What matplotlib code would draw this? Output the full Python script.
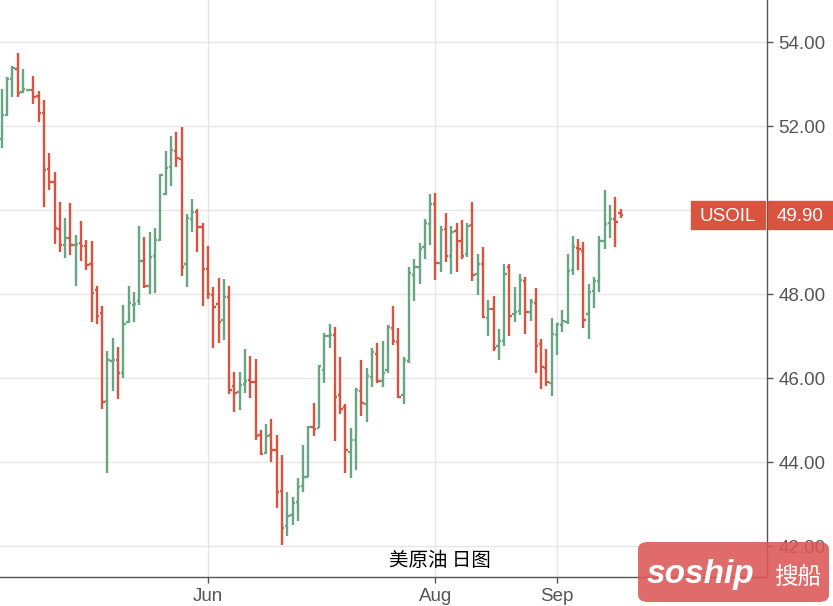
import numpy as np
import matplotlib.pyplot as plt
from matplotlib.patches import Rectangle, FancyBboxPatch
import matplotlib.transforms as mtransforms

plt.rcParams['font.family'] = ['Liberation Sans', 'Noto Sans CJK SC', 'DejaVu Sans']

# daily OHLC, one row per trading day (Apr -> mid Sep)
opens = [51.69, 52.27, 53.12, 53.36, 52.82, 52.86, 52.87, 52.72, 52.31, 50.99,
         50.67, 49.57, 49.17, 49.34, 49.17, 49.23, 49.15, 48.73, 48.10, 47.55,
         45.46, 46.42, 46.44, 46.13, 47.35, 47.76, 47.85, 48.80, 48.21, 48.92,
         49.30, 50.40, 51.04, 51.42, 51.23, 48.73, 49.80, 49.97, 49.61, 48.60,
         47.99, 47.78, 47.40, 47.94, 45.82, 45.68, 45.87, 45.97, 45.92, 44.65,
         44.22, 44.65, 44.30, 43.32, 42.49, 42.75, 43.06, 43.44, 43.65, 44.84,
         44.83, 46.21, 47.01, 47.04, 45.61, 45.32, 44.25, 44.54, 45.71, 45.40,
         46.04, 46.59, 45.94, 46.21, 47.21, 46.87, 45.61, 46.42, 48.47, 48.66,
         49.13, 49.68, 50.16, 48.75, 49.56, 48.92, 49.52, 49.28, 48.97, 49.66,
         48.49, 48.73, 47.44, 47.66, 46.78, 46.90, 48.66, 47.54, 47.61, 48.32,
         47.59, 47.80, 46.82, 46.25, 45.90, 47.04, 47.28, 47.35, 48.59, 49.11,
         49.04, 47.54, 48.09, 48.32, 49.28, 49.71, 49.80, 49.93]
highs = [52.90, 53.17, 53.44, 53.74, 53.36, 52.88, 53.20, 52.84, 52.63, 51.36,
         50.91, 50.20, 49.82, 50.17, 49.41, 49.75, 49.29, 49.27, 48.20, 47.72,
         46.65, 46.96, 46.75, 47.75, 48.20, 48.05, 49.63, 49.36, 49.48, 49.58,
         50.86, 51.41, 51.77, 51.86, 51.98, 49.91, 50.27, 50.03, 49.70, 49.15,
         48.17, 48.39, 48.36, 48.20, 46.15, 46.15, 46.70, 46.53, 46.46, 44.77,
         44.91, 45.03, 44.65, 44.17, 43.29, 43.17, 43.63, 44.41, 44.86, 45.41,
         46.32, 47.08, 47.29, 47.22, 46.51, 45.39, 44.82, 45.77, 46.44, 46.25,
         46.72, 46.84, 46.89, 47.27, 47.72, 47.20, 46.51, 48.65, 48.84, 49.22,
         49.79, 50.39, 50.41, 49.63, 49.94, 49.63, 49.70, 49.77, 49.70, 50.20,
         48.96, 49.13, 47.86, 47.96, 47.17, 48.72, 48.72, 48.17, 48.48, 48.41,
         47.89, 48.16, 46.94, 46.70, 47.44, 47.32, 47.63, 48.96, 49.39, 49.32,
         49.25, 48.25, 48.41, 49.39, 50.48, 50.13, 50.32, 50.03]
lows = [51.49, 52.25, 52.71, 52.71, 52.80, 52.84, 52.53, 52.11, 50.09, 50.48,
        49.20, 49.02, 48.86, 48.94, 48.20, 48.79, 48.58, 47.34, 47.29, 45.27,
        43.75, 45.71, 45.51, 46.01, 47.32, 47.35, 47.75, 48.16, 48.02, 48.04,
        49.28, 50.37, 50.59, 51.04, 48.44, 48.18, 49.49, 49.02, 47.73, 47.90,
        46.73, 46.85, 46.92, 45.63, 45.21, 45.25, 45.66, 45.54, 44.54, 44.18,
        44.21, 44.02, 42.91, 42.04, 42.25, 42.52, 42.61, 43.30, 43.65, 44.63,
        44.82, 45.90, 46.73, 44.52, 45.16, 43.75, 43.63, 43.82, 45.11, 44.97,
        45.80, 45.90, 45.80, 46.13, 46.80, 45.54, 45.40, 46.37, 47.85, 48.25,
        48.85, 49.18, 48.35, 48.54, 48.78, 48.49, 48.54, 48.85, 48.90, 48.32,
        47.99, 47.44, 47.01, 46.66, 46.44, 46.78, 47.01, 47.35, 47.52, 47.06,
        47.37, 46.13, 45.75, 45.82, 45.59, 46.56, 47.11, 47.30, 48.47, 48.59,
        47.21, 46.94, 47.68, 48.06, 49.09, 49.35, 49.13, 49.83]
closes = [52.27, 53.12, 53.40, 52.79, 52.89, 52.87, 52.71, 52.32, 50.96, 50.67,
          49.59, 49.17, 49.34, 49.17, 49.21, 49.15, 48.70, 48.03, 47.48, 45.44,
          46.44, 46.45, 46.13, 47.30, 47.80, 47.78, 48.80, 48.21, 48.90, 49.30,
          50.85, 51.02, 51.44, 51.25, 48.66, 49.82, 49.97, 49.61, 48.60, 48.02,
          47.71, 47.35, 47.94, 45.73, 45.66, 45.85, 45.94, 45.92, 44.63, 44.21,
          44.63, 44.30, 43.30, 42.44, 42.73, 43.04, 43.42, 43.66, 44.84, 44.80,
          46.29, 47.01, 47.04, 45.56, 45.28, 44.30, 44.54, 45.73, 45.42, 46.06,
          46.63, 45.94, 46.13, 47.23, 46.90, 45.56, 46.44, 48.51, 48.66, 49.09,
          49.71, 50.16, 48.75, 49.54, 48.92, 49.49, 49.28, 48.92, 49.63, 48.47,
          48.73, 47.47, 47.66, 46.73, 46.90, 48.49, 47.49, 47.59, 48.35, 47.59,
          47.82, 46.78, 46.28, 45.92, 47.06, 47.30, 47.37, 48.56, 49.13, 49.09,
          47.40, 48.06, 48.32, 49.28, 49.68, 49.80, 49.73, 49.90]

month_pos = [39, 82, 105]
month_labels = ['Jun', 'Aug', 'Sep']
price_ticks = [42, 44, 46, 48, 50, 52, 54]
symbol = 'USOIL'
last_price = closes[-1]
chart_title = '美原油 日图'

up_col = '#68a683'
down_col = '#d9533f'
axis_col = '#555555'

fig = plt.figure(figsize=(8.33, 6.06), dpi=100)
ax = fig.add_axes([0, 0.0483, 0.9208, 0.9517])

x = np.arange(len(opens))
o = np.array(opens)
h = np.array(highs)
l = np.array(lows)
c = np.array(closes)
cols = [up_col if cc >= oo else down_col for oo, cc in zip(o, c)]

ax.vlines(x, l, h, colors=cols, linewidth=1.7, zorder=3)
ax.hlines(o, x - 0.45, x, colors=cols, linewidth=1.7, zorder=3)
ax.hlines(c, x, x + 0.45, colors=cols, linewidth=1.7, zorder=3)

ax.set_xlim(-0.32, 144.7)
ax.set_ylim(41.28, 55.01)

ax.set_xticks(month_pos)
ax.set_xticklabels(month_labels)
ax.set_yticks(price_ticks)
# the 50.00 label sits under the last-price tag
ax.set_yticklabels(['' if abs(v - last_price) < 0.5 else f'{v:.2f}' for v in price_ticks])
ax.yaxis.tick_right()
ax.grid(True, color='#e6e6e6', linewidth=1, zorder=0)
ax.set_axisbelow(True)

for s in ['top', 'left']:
    ax.spines[s].set_visible(False)
for s in ['bottom', 'right']:
    ax.spines[s].set_color(axis_col)
    ax.spines[s].set_linewidth(1.0)
ax.tick_params(axis='both', colors=axis_col, labelcolor=axis_col,
               labelsize=13.5, length=4, width=1)
ax.tick_params(axis='y', pad=4)
ax.tick_params(axis='x', pad=4)

# last price tags
trans = mtransforms.blended_transform_factory(ax.transAxes, ax.transData)
half = 14 / 42
ax.add_patch(Rectangle((691 / 767, last_price - half), 74 / 767, 2 * half,
                       transform=trans, color=down_col, clip_on=False, zorder=5))
ax.add_patch(Rectangle((768 / 767, last_price - half), 70 / 767, 2 * half,
                       transform=trans, color=down_col, clip_on=False, zorder=5))
ax.text(728 / 767, last_price, symbol, transform=trans, color='white',
        fontsize=13.5, ha='center', va='center_baseline', zorder=6, clip_on=False)
ax.text(800 / 767, last_price, f'{last_price:.2f}', transform=trans, color='white',
        fontsize=13.5, ha='center', va='center_baseline', zorder=6, clip_on=False)

fig.text(440 / 833, 1 - 560 / 606, chart_title, family=['Noto Sans CJK SC', 'DejaVu Sans'],
         fontsize=14, ha='center', va='center', color='black')

# watermark
wm = FancyBboxPatch((638 / 833, 1 - 602 / 606), 191 / 833, 60 / 606,
                    boxstyle='round,pad=0,rounding_size=0.012',
                    transform=fig.transFigure, facecolor='#dc5656', alpha=0.88,
                    edgecolor='none', zorder=10)
fig.patches.append(wm)
fig.text(700 / 833, 1 - 574 / 606, 'soship', color='white', fontsize=24,
         fontstyle='italic', fontweight='bold', ha='center', va='center', zorder=11)
fig.text(798 / 833, 1 - 577 / 606, '搜船', color='white', fontsize=17,
         family=['Noto Sans CJK SC', 'DejaVu Sans'], ha='center', va='center', zorder=11)

fig.savefig('out.png', dpi=100)
